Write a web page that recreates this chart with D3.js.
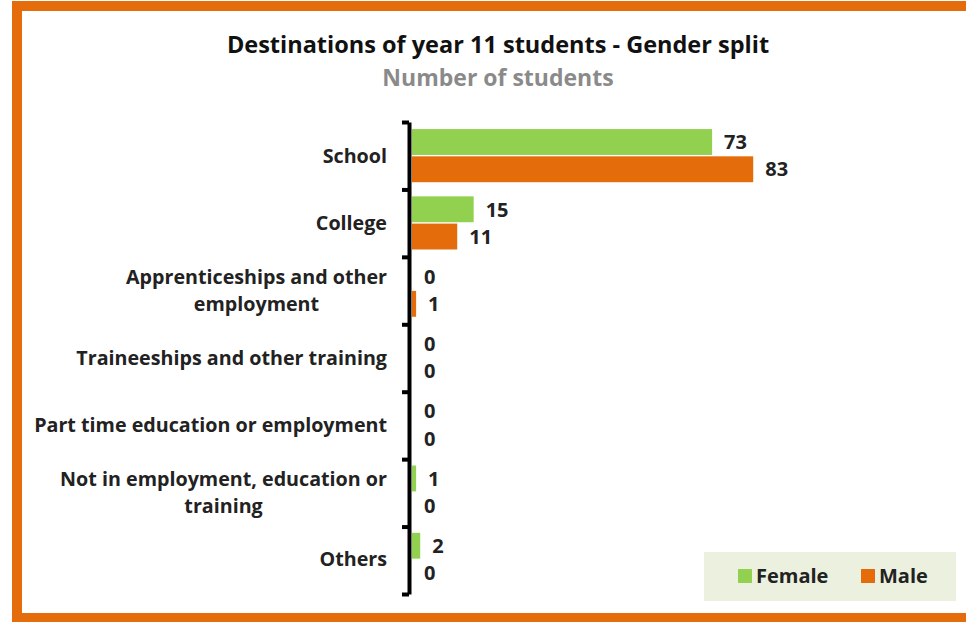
<!DOCTYPE html>
<html>
<head>
<meta charset="utf-8">
<script src="https://cdn.jsdelivr.net/npm/d3@7"></script>
<style>
  body { margin: 0; background: #fff; }
  svg { display: block; font-family: "Open Sans", "Lato", sans-serif; }
</style>
</head>
<body>
<script>
const categories = [
  ["School"],
  ["College"],
  ["Apprenticeships and other", "employment"],
  ["Traineeships and other training"],
  ["Part time education or employment"],
  ["Not in employment, education or", "training"],
  ["Others"]
];
const female = [73, 15, 0, 0, 0, 1, 2];
const male = [83, 11, 1, 0, 0, 0, 0];
const seriesNames = ["Female", "Male"];

const width = 966, height = 622;
const green = "#92d050", orange = "#e46c0a";

const svg = d3.select("body").append("svg")
  .attr("width", width)
  .attr("height", height);

// orange frame
svg.append("rect")
  .attr("x", 17).attr("y", 6)
  .attr("width", 980).attr("height", 612)
  .attr("fill", "none")
  .attr("stroke", orange)
  .attr("stroke-width", 10);

svg.append("text")
  .attr("x", 498).attr("y", 53)
  .attr("text-anchor", "middle")
  .style("font-size", "23.5px").style("font-weight", "bold")
  .attr("fill", "#111")
  .text("Destinations of year 11 students - Gender split");

svg.append("text")
  .attr("x", 498).attr("y", 86)
  .attr("text-anchor", "middle")
  .style("font-size", "23px").style("font-weight", "bold")
  .attr("fill", "#8a8a8a")
  .text("Number of students");

const idx = d3.range(categories.length);
const y = d3.scaleBand().domain(idx).range([122, 593]);
const inner = d3.scaleBand().domain(seriesNames).range([0, y.bandwidth()]).paddingOuter(0.26).paddingInner(0.05);
const x = d3.scaleLinear().domain([0, 90]).range([412, 782]);

// axis with ticks at band boundaries
const yEdge = d3.scaleLinear().domain([0, categories.length]).range([122, 594]);
svg.append("g")
  .attr("transform", "translate(409,0)")
  .call(d3.axisLeft(yEdge).tickValues(d3.range(categories.length + 1)).tickFormat("").tickSize(7).tickSizeOuter(0))
  .call(g => g.select(".domain").attr("stroke", "#000").attr("stroke-width", 4))
  .call(g => g.selectAll(".tick line").attr("stroke", "#000").attr("stroke-width", 4));

const rows = idx.map(i => [
  { name: "Female", value: female[i], i },
  { name: "Male", value: male[i], i }
]).flat();
const color = d3.scaleOrdinal().domain(seriesNames).range([green, orange]);

svg.selectAll(".bar")
  .data(rows)
  .join("rect")
  .attr("class", "bar")
  .attr("x", x(0))
  .attr("y", d => y(d.i) + inner(d.name))
  .attr("width", d => x(d.value) - x(0))
  .attr("height", inner.bandwidth())
  .attr("fill", d => color(d.name));

svg.selectAll(".val")
  .data(rows)
  .join("text")
  .attr("class", "val")
  .attr("x", d => x(d.value) + 12)
  .attr("y", d => y(d.i) + inner(d.name) + inner.bandwidth() / 2)
  .attr("dy", "0.36em")
  .style("font-size", "20px").style("font-weight", "bold")
  .attr("fill", "#222")
  .text(d => d.value);

const labelRight = 387;
const labels = svg.selectAll(".cat")
  .data(idx)
  .join("text")
  .attr("class", "cat")
  .attr("text-anchor", "end")
  .style("font-size", "19.7px").style("font-weight", "bold")
  .attr("fill", "#222");

labels.each(function (i) {
  const lines = categories[i];
  const cy = y(i) + y.bandwidth() / 2;
  const t = d3.select(this);
  const spans = t.selectAll("tspan")
    .data(lines)
    .join("tspan")
    .attr("x", labelRight)
    .attr("y", (d, k) => cy + (k - (lines.length - 1) / 2) * 27)
    .attr("dy", "0.36em")
    .text(d => d);
  if (lines.length > 1) {
    // wrapped labels: lines centred under the widest line
    const w = d3.max(spans.nodes(), n => n.getComputedTextLength());
    t.attr("text-anchor", "middle");
    spans.attr("x", labelRight - w / 2);
  }
});

// legend
const legend = svg.append("g");
legend.append("rect")
  .attr("x", 704).attr("y", 552)
  .attr("width", 252).attr("height", 49)
  .attr("fill", "#ebf1de");
const items = legend.selectAll(".item")
  .data(seriesNames)
  .join("g")
  .attr("transform", (d, k) => `translate(${[738, 861][k]},576)`);
items.append("rect")
  .attr("x", 0).attr("y", -7)
  .attr("width", 14).attr("height", 14)
  .attr("fill", d => color(d));
items.append("text")
  .attr("x", 18).attr("dy", "0.36em")
  .style("font-size", "20px").style("font-weight", "bold")
  .attr("fill", "#222")
  .text(d => d);
</script>
</body>
</html>
